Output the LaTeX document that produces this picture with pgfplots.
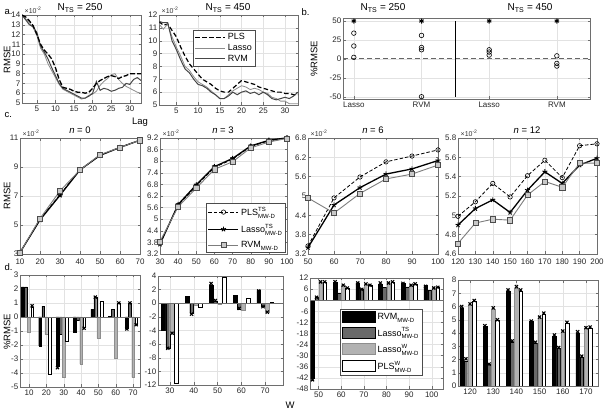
\documentclass[border=0pt]{standalone}
\usepackage{fontspec}
\setmainfont{Liberation Sans}
\usepackage{pgfplots}
\pgfplotsset{compat=1.18}
\definecolor{dgray}{RGB}{105,105,105}
\definecolor{lgray}{RGB}{178,178,178}
\definecolor{sqfill}{RGB}{200,200,200}
\definecolor{rvmline}{RGB}{125,125,125}
\definecolor{alasso}{RGB}{140,140,140}
\definecolor{arvm}{RGB}{70,70,70}
\definecolor{gridc}{RGB}{226,226,226}
\definecolor{axc}{RGB}{110,110,110}
\newcommand{\supsub}[2]{{\fontsize{6}{6}\selectfont\rlap{\raisebox{4.4pt}{#1}}\raisebox{-2.6pt}{#2}}}
\newcommand{\sbs}[1]{{\fontsize{6}{6}\selectfont\raisebox{-2.6pt}{#1}}}
\newcommand{\ttl}{\fontsize{10}{11}\selectfont}
\newcommand{\lbl}{\fontsize{9.5}{10}\selectfont}
\newcommand{\sml}{\fontsize{7}{8}\selectfont}
\pgfplotsset{
  mstyle/.style={
    scale only axis, anchor=south west,
    axis line style={draw=axc, line width=0.5pt},
    tick style={draw=axc, line width=0.4pt},
    major tick length=2.5pt,
    tick align=inside,
    tick label style={font=\fontsize{8}{9}\selectfont, text=black!85},
    grid=major, grid style={draw=gridc, line width=0.4pt},
    /pgf/number format/assume math mode=true,
    xticklabel style={inner sep=1.5pt, yshift=-1.5pt},
    yticklabel style={inner sep=1.5pt},
  },
  lineleg/.style={legend image code/.code={\draw[mark repeat=2,mark phase=2,##1] plot coordinates {(0pt,0pt) (15pt,0pt) (30pt,0pt)};}},
  barleg/.style={legend image code/.code={\draw[##1] (0pt,-5pt) rectangle (33pt,6pt);}},
  plsc/.style={black, line width=0.8pt, dash pattern=on 3.5pt off 2pt, mark=o, mark size=2.2pt, mark options={solid, fill=white, draw=black, line width=0.6pt}},
  lassoc/.style={black, line width=1.3pt, mark=star, mark size=2.6pt, mark options={solid, line width=0.9pt}},
  rvmc/.style={rvmline, line width=0.9pt, mark=square*, mark size=2.6pt, mark options={solid, fill=sqfill, draw=black!70, line width=0.5pt}},
  brvm/.style={ybar, bar width=1.6, bar shift=0pt, fill=black, draw=black, line width=0.3pt},
  blts/.style={ybar, bar width=1.6, bar shift=0pt, fill=dgray, draw=black, line width=0.3pt},
  blw/.style={ybar, bar width=1.6, bar shift=0pt, fill=lgray, draw=lgray!80!black, line width=0.3pt},
  bplw/.style={ybar, bar width=1.6, bar shift=0pt, fill=white, draw=black, line width=0.3pt},
  xm/.style={only marks, mark=x, mark size=2.2pt, black, line width=1.1pt, forget plot},
}
\begin{document}
\begin{tikzpicture}
\path[use as bounding box] (0pt,0pt) rectangle (604pt,411pt);

% ---------------- a1
\begin{axis}[mstyle, at={(22pt,308pt)}, width=119pt, height=88pt,
  xmin=1, xmax=33, ymin=5, ymax=14, xtick={5,10,15,20,25,30}, ytick={5,6,7,8,9,10,11,12,13,14}]
\addplot[alasso, line width=0.8pt] coordinates {(1,14.0)(2,13.6)(3,13.2)(4,12.7)(5,11.9)(6,10.6)(7,10.0)(8,9.0)(9,8.3)(10,7.6)(11,6.9)(12,6.4)(13,6.2)(14,6.0)(15,5.8)(16,5.6)(17,5.4)(18,5.5)(19,5.8)(20,5.9)(21,6.2)(22,6.8)(23,7.2)(24,7.5)(25,7.9)(26,8.0)(27,7.4)(28,7.0)(29,6.7)(30,6.5)(31,6.3)(32,6.1)(33,6.0)};
\addplot[arvm, line width=1pt] coordinates {(1,14.0)(2,13.5)(3,13.0)(4,12.8)(5,12.2)(6,10.8)(7,10.2)(8,9.5)(9,8.6)(10,7.8)(11,7.0)(12,6.5)(13,6.3)(14,6.1)(15,5.9)(16,5.7)(17,5.5)(18,5.5)(19,5.7)(20,6.0)(21,7.2)(22,6.3)(23,6.5)(24,6.4)(25,6.2)(26,6.3)(27,6.5)(28,6.6)(29,7.0)(30,6.9)(31,7.4)(32,7.6)(33,7.3)};
\addplot[black, line width=1.3pt, dash pattern=on 5pt off 2pt] coordinates {(1,14.0)(2,13.8)(3,13.4)(4,12.9)(5,12.0)(6,11.0)(7,10.4)(8,10.0)(9,9.5)(10,8.6)(11,7.4)(12,6.6)(13,6.5)(14,6.4)(15,6.2)(16,6.1)(17,6.1)(18,6.0)(19,6.1)(20,6.5)(21,7.0)(22,7.3)(23,7.5)(24,7.7)(25,7.8)(26,7.7)(27,7.5)(28,7.7)(29,7.8)(30,8.0)(31,8.0)(32,8.0)(33,8.0)};
\end{axis}

% ---------------- a2
\begin{axis}[mstyle, at={(159pt,306pt)}, width=139pt, height=90pt,
  xmin=1, xmax=33, ymin=5, ymax=12, xtick={5,10,15,20,25,30}, ytick={5,6,7,8,9,10,11,12},
  legend style={at={(0.245,0.835)}, anchor=north west, draw=black!70, font=\fontsize{9}{10}\selectfont, inner sep=1.5pt, row sep=-1pt},
  legend cell align=left,
  legend image code/.code={\draw[#1] (0pt,0pt) -- (30pt,0pt);}]
\addplot[black, line width=1.2pt, dash pattern=on 4.5pt off 2.5pt] coordinates {(1,11.5)(2,11.2)(3,11.3)(4,10.8)(5,10.3)(6,9.5)(7,8.8)(8,8.2)(9,7.8)(10,7.4)(11,7.0)(12,6.8)(13,6.6)(14,6.3)(15,6.1)(16,6.0)(17,6.0)(18,6.3)(19,6.6)(20,6.9)(21,6.8)(22,6.7)(23,6.6)(24,6.4)(25,6.3)(26,6.2)(27,6.1)(28,6.0)(29,6.0)(30,5.9)(31,5.9)(32,5.8)(33,5.8)};
\addlegendentry{PLS}
\addplot[alasso, line width=0.8pt] coordinates {(1,11.3)(2,10.9)(3,11.3)(4,10.3)(5,9.5)(6,8.8)(7,8.0)(8,7.7)(9,7.2)(10,6.8)(11,6.6)(12,6.4)(13,6.1)(14,5.8)(15,5.5)(16,5.5)(17,5.8)(18,6.1)(19,6.3)(20,6.5)(21,6.4)(22,6.2)(23,6.3)(24,6.2)(25,6.0)(26,5.9)(27,5.6)(28,5.5)(29,5.3)(30,5.3)(31,5.1)(32,5.1)(33,5.1)};
\addlegendentry{Lasso}
\addplot[arvm, line width=1pt] coordinates {(1,11.5)(2,11.4)(3,11.4)(4,10.0)(5,9.3)(6,8.5)(7,7.8)(8,7.5)(9,7.0)(10,6.6)(11,6.5)(12,6.3)(13,6.0)(14,5.8)(15,5.5)(16,5.5)(17,5.7)(18,6.0)(19,5.8)(20,6.0)(21,6.1)(22,5.9)(23,6.0)(24,5.8)(25,6.0)(26,5.8)(27,5.5)(28,5.4)(29,5.5)(30,5.6)(31,5.5)(32,5.7)(33,6.0)};
\addlegendentry{RVM}
\end{axis}

% ---------------- b
\begin{axis}[mstyle, at={(343pt,312pt)}, width=247pt, height=81pt,
  xmin=0.84, xmax=4.49, ymin=-53, ymax=54, xtick={1,2,3,4}, xticklabels={Lasso,RVM,Lasso,RVM},
  ytick={-50,-25,0,25,50}]
\addplot[black!60, line width=0.9pt, dash pattern=on 5pt off 3pt] coordinates {(0.84,0)(4.49,0)};
\addplot[black, line width=0.6pt] coordinates {(2.5,-50)(2.5,50)};
\addplot[only marks, mark=o, mark size=2.3pt, black, line width=0.6pt] coordinates {(1,34)(1,17)(1,2)(2,31)(2,15)(2,12)(2,-50)(3,12)(3,9)(3,5)(4,4)(4,-6)(4,-9.5)};
\addplot[only marks, mark=asterisk, mark size=2.5pt, black, line width=1pt] coordinates {(1,50)(2,50)(3,50)(4,50)};
\end{axis}

% ---------------- c1
\begin{axis}[mstyle, at={(20pt,157pt)}, width=120pt, height=116pt, clip=false,
  xticklabel style={yshift=-2pt},
  xmin=10, xmax=70, ymin=3, ymax=11, xtick={10,20,30,40,50,60,70}, ytick={3,5,7,9,11}]
\addplot[plsc] coordinates {(10,3.1)(20,5.4)(30,7.1)(40,8.8)(50,9.8)(60,10.35)(70,10.85)};
\addplot[lassoc] coordinates {(10,3.1)(20,5.35)(30,7.05)(40,8.8)(50,9.8)(60,10.35)(70,10.85)};
\addplot[rvmc] coordinates {(10,3.1)(20,5.45)(30,7.35)(40,8.8)(50,9.85)(60,10.35)(70,10.85)};
\end{axis}

% ---------------- c2
\begin{axis}[mstyle, at={(160pt,157pt)}, width=127pt, height=116pt, clip=false,
  xticklabel style={yshift=-2pt},
  xmin=30, xmax=100, ymin=3.2, ymax=9.2, xtick={30,40,50,60,70,80,90,100},
  ytick={3.2,3.8,4.4,5,5.6,6.2,6.8,7.4,8,8.6,9.2}, lineleg,
  legend style={at={(0.99,0.012)}, anchor=south east, draw=black!70, font=\fontsize{9}{10}\selectfont, inner sep=1.5pt, row sep=3pt},
  legend cell align=left]
\addplot[plsc] coordinates {(30,3.78)(40,5.72)(50,6.72)(60,7.68)(70,8.1)(80,8.76)(90,9.05)(100,9.2)};
\addlegendentry{PLS\supsub{TS}{MW-D}}
\addplot[lassoc] coordinates {(30,3.71)(40,5.76)(50,6.78)(60,7.72)(70,8.14)(80,8.79)(90,9.08)(100,9.21)};
\addlegendentry{Lasso\supsub{TS}{MW-D}}
\addplot[rvmc] coordinates {(30,3.85)(40,5.64)(50,6.61)(60,7.58)(70,7.97)(80,8.69)(90,8.99)(100,9.18)};
\addlegendentry{RVM\sbs{MW-D}}
\end{axis}

% ---------------- c3
\begin{axis}[mstyle, at={(308pt,157pt)}, width=130pt, height=116pt, clip=false,
  xticklabel style={yshift=-2pt},
  xmin=50, xmax=100, ymin=3.2, ymax=6.8, xtick={50,60,70,80,90,100},
  ytick={3.2,3.8,4.4,5,5.6,6.2,6.8}]
\addplot[plsc] coordinates {(50,3.45)(60,4.94)(70,5.59)(80,6.06)(90,6.24)(100,6.43)};
\addplot[lassoc] coordinates {(50,3.4)(60,4.72)(70,5.26)(80,5.68)(90,5.84)(100,6.1)};
\addplot[rvmc] coordinates {(50,4.94)(60,4.47)(70,5.08)(80,5.53)(90,5.68)(100,5.96)};
\end{axis}

% ---------------- c4
\begin{axis}[mstyle, at={(458pt,157pt)}, width=139pt, height=116pt, clip=false,
  xticklabel style={yshift=-2pt},
  xmin=120, xmax=200, ymin=4.6, ymax=5.8, xtick={120,130,140,150,160,170,180,190,200},
  ytick={4.6,4.8,5,5.2,5.4,5.6,5.8}]
\addplot[plsc] coordinates {(120,4.99)(130,5.14)(140,5.33)(150,5.19)(160,5.41)(170,5.57)(180,5.39)(190,5.72)(200,5.74)};
\addplot[lassoc] coordinates {(120,4.9)(130,5.07)(140,5.16)(150,5.03)(160,5.26)(170,5.45)(180,5.33)(190,5.52)(200,5.59)};
\addplot[rvmc] coordinates {(120,4.71)(130,4.92)(140,4.96)(150,4.95)(160,5.21)(170,5.35)(180,5.29)(190,5.54)(200,5.54)};
\end{axis}

% ---------------- d1
\begin{axis}[mstyle, at={(20pt,24pt)}, width=120pt, height=112pt,
  xmin=4.8, xmax=74, ymin=-5, ymax=3, xtick={10,20,30,40,50,60,70}, ytick={-5,-4,-3,-2,-1,0,1,2,3}]
\addplot[brvm] coordinates {(6.4,2.16)(16.4,-2.07)(26.4,-3.54)(36.4,-1.07)(46.4,0.55)(56.4,0.03)(66.4,-0.8)};
\addplot[blts] coordinates {(8.2,2.16)(18.2,0.78)(28.2,-1.24)(38.2,-0.2)(48.2,1.45)(58.2,0.55)(68.2,0.97)};
\addplot[blw] coordinates {(10,-1.09)(20,-1.24)(30,-4.32)(40,-3.37)(50,-1.52)(60,-2.95)(70,-4.32)};
\addplot[bplw] coordinates {(11.8,0.69)(21.8,-4.06)(31.8,-1.71)(41.8,-0.69)(51.8,1.16)(61.8,0.97)(71.8,-0.5)};
\addplot[axc, line width=0.5pt, forget plot] coordinates {(4.8,0)(74,0)};
\addplot[xm] coordinates {(11.8,0.8)(26.4,-3.62)(41.8,-0.8)(48.2,1.42)(61.8,1.0)(66.4,-0.85)(68.2,1.0)(71.8,-0.55)};
\end{axis}

% ---------------- d2
\begin{axis}[mstyle, at={(158pt,26pt)}, width=125pt, height=109pt,
  xmin=25, xmax=77.5, ymin=-12, ymax=4, xtick={30,40,50,60,70}, ytick={-12,-10,-8,-6,-4,-2,0,2,4}]
\addplot[brvm] coordinates {(27.3,-3.95)(37.3,1.0)(47.3,2.7)(57.3,1.15)(67.3,1.9)};
\addplot[blts] coordinates {(29.1,-6.55)(39.1,-1.4)(49.1,0.3)(59.1,-0.8)(69.1,-0.4)};
\addplot[blw] coordinates {(30.9,-4.4)(40.9,-0.3)(50.9,-0.2)(60.9,-1.0)(70.9,-1.25)};
\addplot[bplw] coordinates {(32.7,-11.75)(42.7,-0.6)(52.7,3.85)(62.7,0.8)(72.7,0.2)};
\addplot[axc, line width=0.5pt, forget plot] coordinates {(25,0)(77.5,0)};
\addplot[xm] coordinates {(29.1,-6.6)(30.9,-4.4)(39.1,-1.6)(47.3,2.9)(49.1,0.4)(59.1,-0.75)(67.3,1.8)(69.1,-0.5)(70.9,-1.3)};
\end{axis}

% ---------------- d3
\begin{axis}[mstyle, at={(310pt,22pt)}, width=133pt, height=111pt,
  xmin=46.2, xmax=105, ymin=-48, ymax=12, xtick={50,60,70,80,90,100},
  ytick={-48,-42,-36,-30,-24,-18,-12,-6,0,6,12},
  legend style={at={(0.226,0.72)}, anchor=north west, draw=black!70, font=\fontsize{9}{10}\selectfont, inner sep=2pt, row sep=2.5pt},
  legend cell align=left]
\addplot[brvm, barleg] coordinates {(47.3,-42.3)(57.3,9.9)(67.3,9.3)(77.3,8.8)(87.3,9.1)(97.3,7.9)};
\addlegendentry{RVM\sbs{MW-D}}
\addplot[blts, barleg] coordinates {(49.1,1.5)(59.1,3.9)(69.1,6.1)(79.1,7.0)(89.1,7.2)(99.1,5.2)};
\addlegendentry{Lasso\supsub{TS}{MW-D}}
\addplot[blw, barleg] coordinates {(50.9,9.9)(60.9,8.1)(70.9,8.8)(80.9,9.3)(90.9,8.1)(100.9,6.6)};
\addlegendentry{Lasso\supsub{W}{MW-D}}
\addplot[bplw, barleg] coordinates {(52.7,9.9)(62.7,6.6)(72.7,8.1)(82.7,9.9)(92.7,8.8)(102.7,7.0)};
\addlegendentry{PLS\supsub{W}{MW-D}}
\addplot[axc, line width=0.5pt, forget plot] coordinates {(46.2,0)(105,0)};
\addplot[xm] coordinates {(47.3,-43)(49.1,1.6)(50.9,9.9)(52.7,9.9)(57.3,10)(60.9,8.1)(62.7,6.6)(67.3,9.3)(69.1,5.9)(70.9,8.8)(72.7,8.1)(77.3,9.3)(80.9,9.3)(82.7,9.9)(87.3,9.1)(90.9,8.1)(92.7,8.8)(97.3,7.5)(100.9,6.6)(102.7,7.0)};
\end{axis}

% ---------------- d4
\begin{axis}[mstyle, at={(458pt,25pt)}, width=140pt, height=106pt,
  xmin=114.8, xmax=175.2, ymin=0, ymax=8, xtick={120,130,140,150,160,170}, ytick={0,1,2,3,4,5,6,7,8}]
\addplot[brvm] coordinates {(116.4,5.91)(126.4,4.48)(136.4,7.17)(146.4,4.86)(156.4,3.77)(166.4,3.97)};
\addplot[blts] coordinates {(118.2,1.89)(128.2,1.64)(138.2,3.3)(148.2,3.22)(158.2,2.84)(168.2,2.14)};
\addplot[blw] coordinates {(120,6.11)(130,5.81)(140,7.37)(150,5.1)(160,4.1)(170,4.35)};
\addplot[bplw] coordinates {(121.8,6.41)(131.8,4.98)(141.8,7.17)(151.8,5.41)(161.8,4.73)(171.8,4.4)};
\addplot[xm] coordinates {(116.4,6.0)(126.4,4.55)(136.4,7.25)(146.4,4.9)(156.4,3.85)(166.4,4.1)(118.2,2.05)(128.2,1.65)(138.2,3.4)(148.2,3.3)(158.2,2.9)(168.2,2.25)(120,6.2)(130,5.9)(140,7.5)(150,5.2)(160,4.15)(170,4.4)(121.8,6.45)(131.8,5.0)(141.8,7.25)(151.8,5.5)(161.8,4.8)(171.8,4.45)};
\end{axis}

% ---------------- texts
\node[anchor=west, font=\lbl] at (1pt,399pt) {a.};
\node[font=\ttl] at (80pt,403pt) {N\textsubscript{TS} = 250};
\node[font=\ttl] at (228pt,403pt) {N\textsubscript{TS} = 450};
\node[anchor=south west, font=\sml, inner sep=0.5pt, text=black!80] at (24pt,397pt) {×10\textsuperscript{-2}};
\node[anchor=south west, font=\sml, inner sep=0.5pt, text=black!80] at (161pt,397pt) {×10\textsuperscript{-2}};
\node[rotate=90, font=\lbl] at (7pt,351pt) {RMSE};
\node[font=\lbl] at (140pt,289pt) {Lag};
\node[anchor=west, font=\lbl] at (298pt,399pt) {b.};
\node[font=\ttl] at (383pt,403pt) {N\textsubscript{TS} = 250};
\node[font=\ttl] at (530pt,403pt) {N\textsubscript{TS} = 450};
\node[rotate=90, font=\lbl] at (314pt,352pt) {\%RMSE};

\node[anchor=west, font=\lbl] at (1pt,296pt) {c.};
\node[font=\lbl] at (80pt,281pt) {\textit{n} = 0};
\node[font=\lbl] at (223pt,281pt) {\textit{n} = 3};
\node[font=\lbl] at (373pt,281pt) {\textit{n} = 6};
\node[font=\lbl] at (527pt,281pt) {\textit{n} = 12};
\node[anchor=south west, font=\sml, inner sep=0.5pt, text=black!80] at (22pt,274pt) {×10\textsuperscript{-2}};
\node[anchor=south west, font=\sml, inner sep=0.5pt, text=black!80] at (162pt,274pt) {×10\textsuperscript{-2}};
\node[anchor=south west, font=\sml, inner sep=0.5pt, text=black!80] at (310pt,274pt) {×10\textsuperscript{-2}};
\node[anchor=south west, font=\sml, inner sep=0.5pt, text=black!80] at (460pt,274pt) {×10\textsuperscript{-2}};
\node[rotate=90, font=\lbl] at (7pt,215pt) {RMSE};

\node[anchor=west, font=\lbl] at (1pt,144pt) {d.};
\node[rotate=90, font=\lbl] at (7pt,79pt) {\%RMSE};
\node[font=\lbl] at (290pt,6pt) {W};
\end{tikzpicture}
\end{document}
